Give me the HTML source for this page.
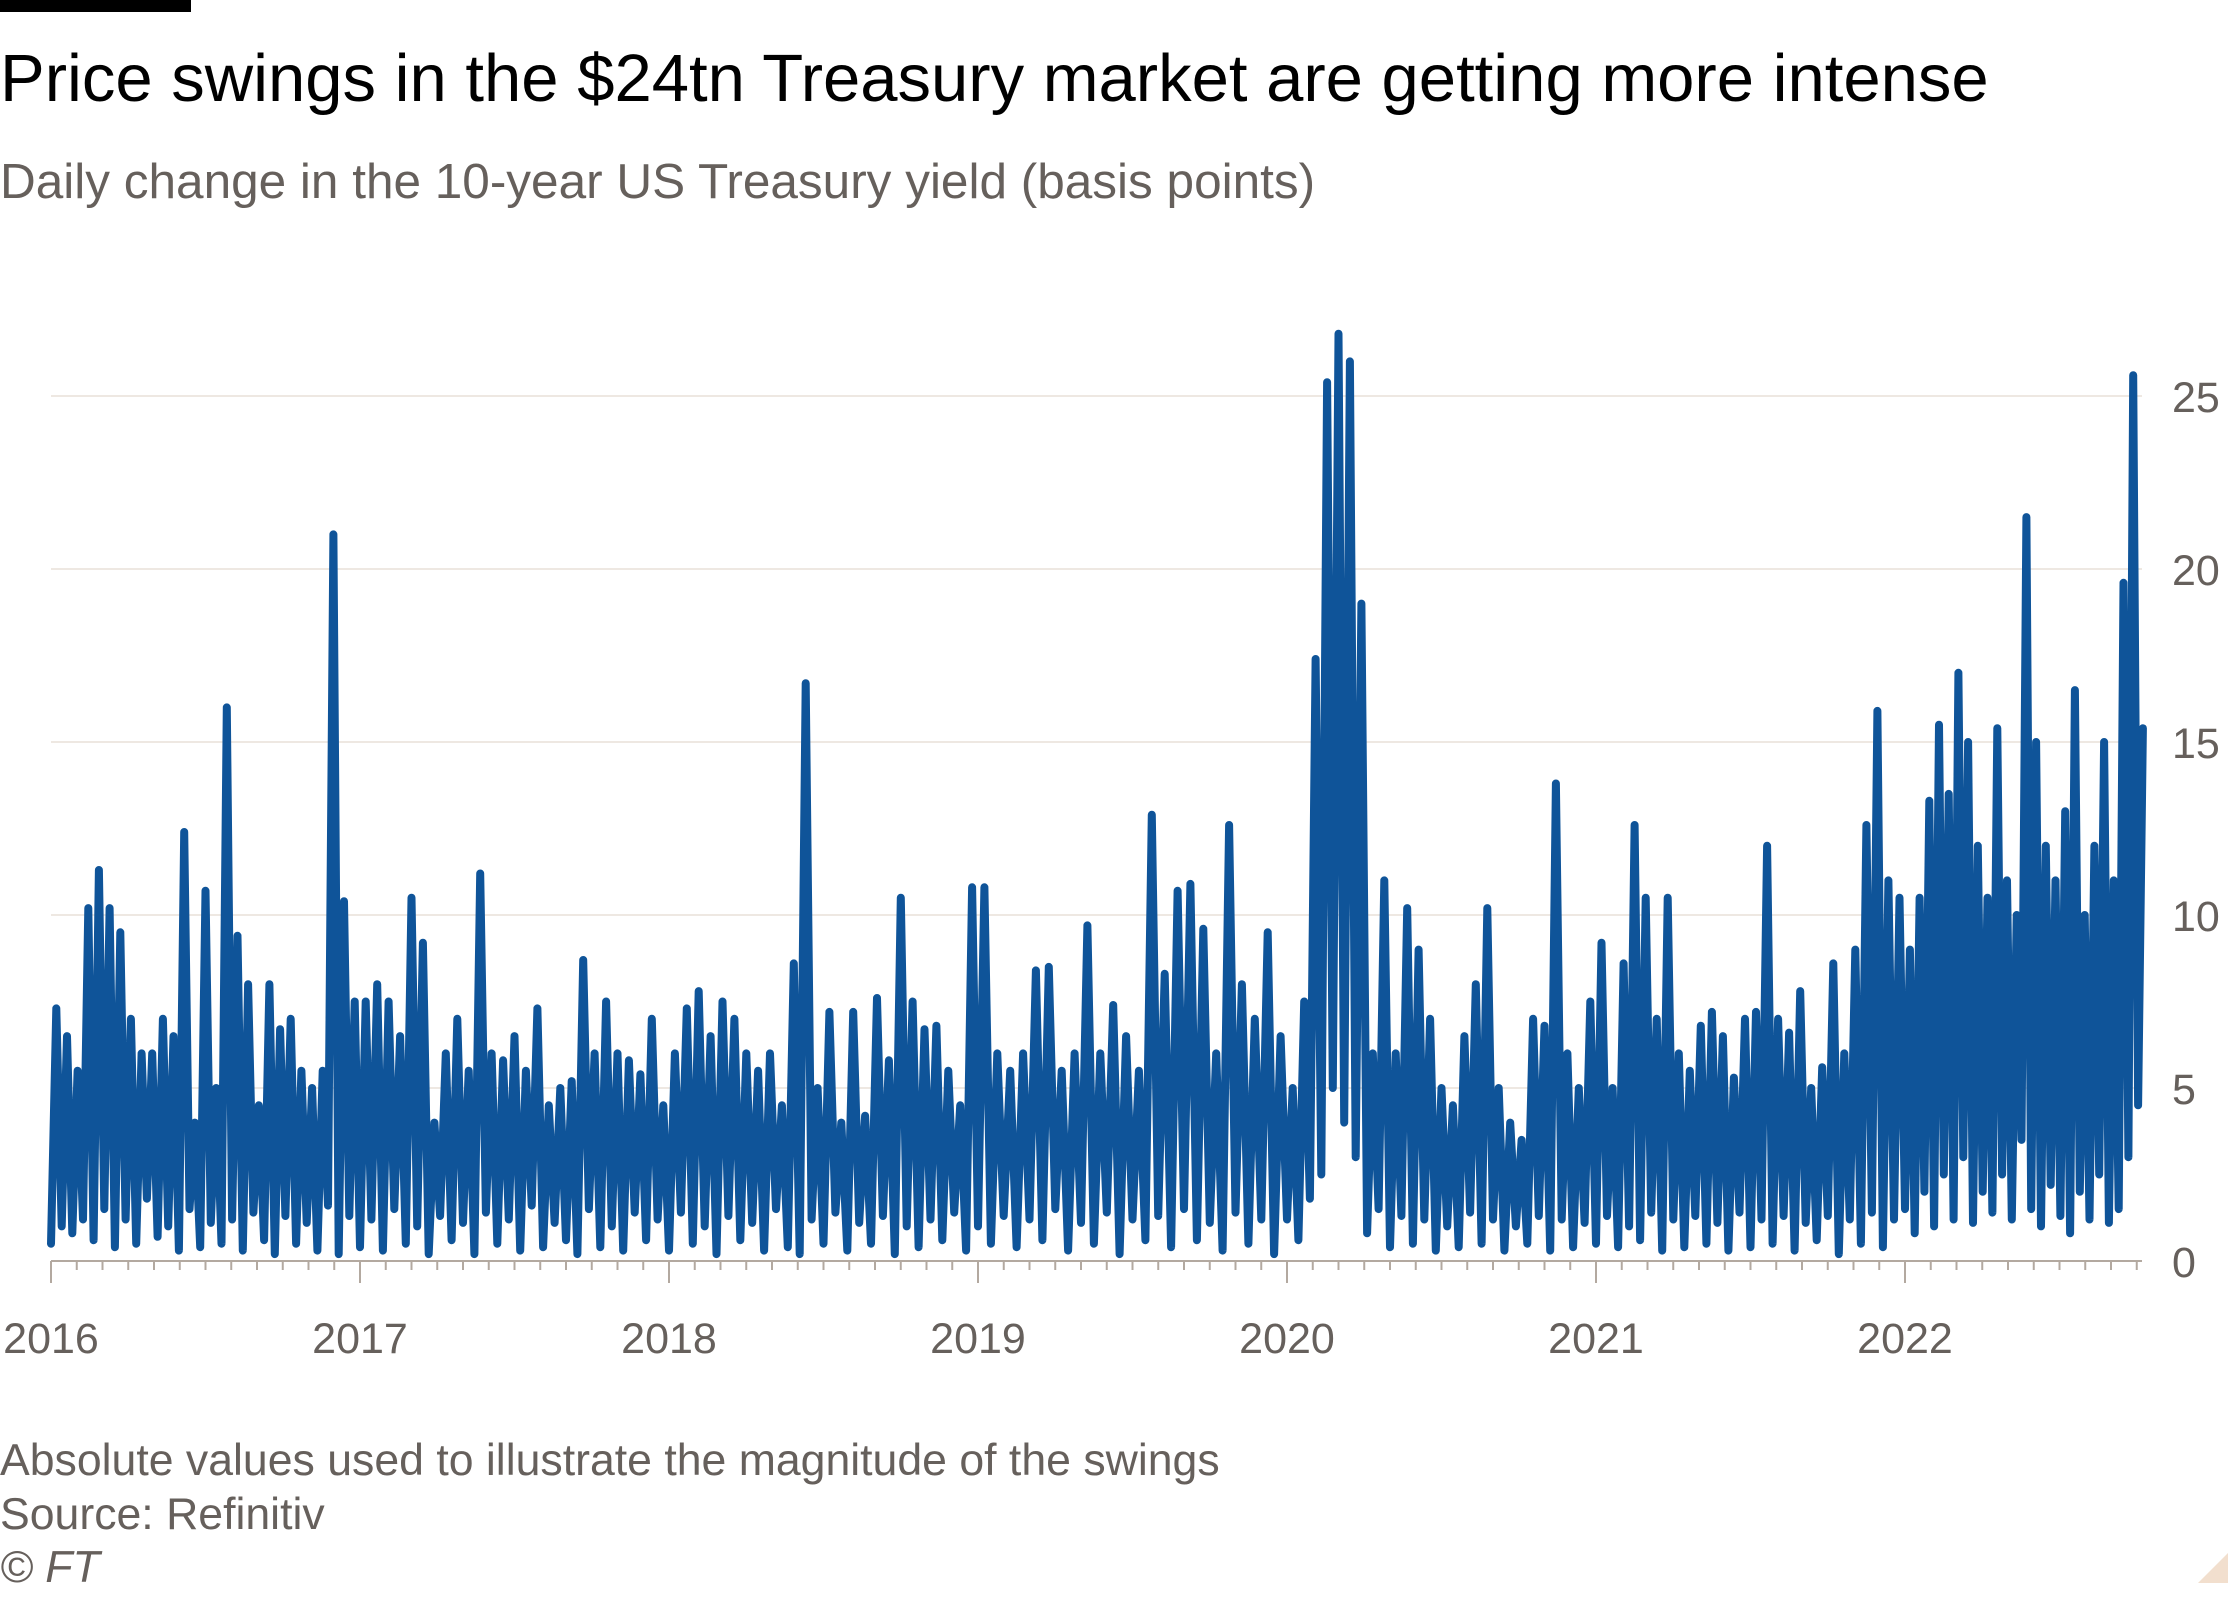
<!DOCTYPE html>
<html><head><meta charset="utf-8">
<style>
html,body{margin:0;padding:0;background:#fff;}
body{width:2240px;height:1600px;position:relative;overflow:hidden;font-family:"Liberation Sans",sans-serif;}
.t{position:absolute;left:0;white-space:nowrap;}
</style></head>
<body>
<div style="position:absolute;left:0;top:0;width:191px;height:12px;background:#000"></div>
<div class="t" style="top:40px;font-size:67px;color:#000">Price swings in the $24tn Treasury market are getting more intense</div>
<div class="t" style="top:153px;font-size:49.5px;color:#66605c">Daily change in the 10-year US Treasury yield (basis points)</div>
<svg id="chart" width="2240" height="1600" style="position:absolute;left:0;top:0"></svg>
<div class="t" style="top:1436px;font-size:44.6px;color:#66605c">Absolute values used to illustrate the magnitude of the swings</div>
<div class="t" style="top:1490px;font-size:44.6px;color:#66605c">Source: Refinitiv</div>
<div class="t" style="top:1543px;font-size:44.6px;color:#66605c;font-style:italic">© FT</div>
<svg width="30" height="30" style="position:absolute;left:2198px;top:1553px"><polygon points="30,0 30,30 0,30" fill="#f2dfce"/></svg>
<script>
const years=[2016,2017,2018,2019,2020,2021,2022];
const yearLabels=["2016","2017","2018","2019","2020","2021","2022"];
const yTicks=[0,5,10,15,20,25];
const yearSpan=[1,1,1,1,1,1,0.77];
const v2016=[0.5,7.3,1,6.5,0.8,5.5,1.2,10.2,0.6,11.3,1.5,10.2,0.4,9.5,1.2,7,0.5,6,1.8,6,0.7,7,1,6.5,0.3,12.4,1.5,4,0.4,10.7,1.1,5,0.5,16,1.2,9.4,0.3,8,1.4,4.5,0.6,8,0.2,6.7,1.3,7,0.5,5.5,1.1,5,0.3,5.5,1.6,21,0.2,10.4,1.3,7.5];
const v2017=[0.4,7.5,1.2,8,0.3,7.5,1.5,6.5,0.5,10.5,1,9.2,0.2,4,1.3,6,0.6,7,1.1,5.5,0.2,11.2,1.4,6,0.5,5.8,1.2,6.5,0.3,5.5,1.6,7.3,0.4,4.5,1.1,5,0.6,5.2,0.2,8.7,1.5,6,0.4,7.5,1,6,0.3,5.8,1.4,5.4,0.6,7,1.2,4.5];
const v2018=[0.3,6,1.4,7.3,0.5,7.8,1,6.5,0.2,7.5,1.3,7,0.6,6,1.1,5.5,0.3,6,1.5,4.5,0.4,8.6,0.2,16.7,1.2,5,0.5,7.2,1.4,4,0.3,7.2,1.1,4.2,0.5,7.6,1.3,5.8,0.2,10.5,1,7.5,0.4,6.7,1.2,6.8,0.6,5.5,1.4,4.5,0.3,10.8];
const v2019=[1,10.8,0.5,6,1.3,5.5,0.4,6,1.2,8.4,0.6,8.5,1.5,5.5,0.3,6,1.1,9.7,0.5,6,1.4,7.4,0.2,6.5,1.2,5.5,0.6,12.9,1.3,8.3,0.4,10.7,1.5,10.9,0.6,9.6,1.1,6,0.3,12.6,1.4,8,0.5,7,1.2,9.5,0.2,6.5];
const v2020=[1.2,5,0.6,7.5,1.8,17.4,2.5,25.4,5,26.8,4,26,3,19,0.8,6,1.5,11,0.4,6,1.3,10.2,0.5,9,1.2,7,0.3,5,1,4.5,0.4,6.5,1.4,8,0.5,10.2,1.2,5,0.3,4,1,3.5,0.5,7,1.3,6.8,0.3,13.8,1.2,6,0.4,5,1.1,7.5];
const v2021=[0.5,9.2,1.3,5,0.4,8.6,1,12.6,0.6,10.5,1.4,7,0.3,10.5,1.2,6,0.4,5.5,1.3,6.8,0.5,7.2,1.1,6.5,0.3,5.3,1.4,7,0.4,7.2,1.2,12,0.5,7,1.3,6.6,0.3,7.8,1.1,5,0.6,5.6,1.3,8.6,0.2,6,1.2,9,0.5,12.6,1.4,15.9,0.4,11,1.2,10.5];
const v2022=[1.5,9,0.8,10.5,2,13.3,1,15.5,2.5,13.5,1.2,17,3,15,1.1,12,2,10.5,1.4,15.4,2.5,11,1.2,10,3.5,21.5,1.5,15,1,12,2.2,11,1.3,13,0.8,16.5,2,10,1.2,12,2.5,15,1.1,11,1.5,19.6,3,25.6,4.5,15.4];
const series=[v2016,v2017,v2018,v2019,v2020,v2021,v2022];

const svg=document.getElementById('chart');
const NS='http://www.w3.org/2000/svg';
const X0=51,YW=309,Y0=1261,U=34.6,XR=2142;
const xs=t=>X0+(t-2016)*YW;
const ys=v=>Y0-v*U;
function mk(tag,attrs){const e=document.createElementNS(NS,tag);for(const k in attrs)e.setAttribute(k,attrs[k]);svg.appendChild(e);return e;}

yTicks.forEach(v=>{
  const g=mk('line',{x1:X0,x2:XR,y1:ys(v),y2:ys(v),stroke:v===0?'#b3a9a0':'#e9e0d8','stroke-width':v===0?2:1.5});
  
  
  const t=mk('text',{x:2172,y:ys(v)+16,'font-size':43,fill:'#66605c','font-family':'Liberation Sans, sans-serif'});
  t.textContent=String(v);
  
  
});
for(let m=0;m<=81;m++){
  const x=xs(2016+m/12);
  if(x>XR)break;
  const l=mk('line',{x1:x,x2:x,y1:Y0,y2:Y0+(m%12===0?22:9),stroke:'#b3a9a0','stroke-width':2});
  
  
}
years.forEach((y,i)=>{
  const t=mk('text',{x:xs(y),y:1353,'font-size':43,fill:'#66605c','text-anchor':'middle','font-family':'Liberation Sans, sans-serif'});
  t.textContent=yearLabels[i];
  
  
});
const pts=[];
series.forEach((arr,i)=>{
  arr.forEach((v,j)=>{
    const t=years[i]+yearSpan[i]*j/(arr.length-1)*(i<6?(arr.length-1)/arr.length:1);
    pts.push(xs(t).toFixed(1)+','+ys(v).toFixed(1));
  });
});
const line=mk('polyline',{points:pts.join(' '),fill:'none',stroke:'#0f5499','stroke-width':8,'stroke-linejoin':'round','stroke-linecap':'round'});


</script>
</body></html>
